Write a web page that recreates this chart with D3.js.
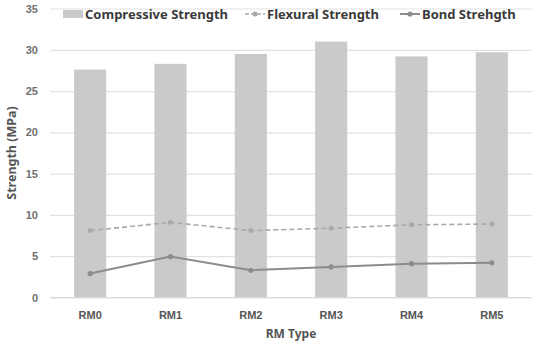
<!DOCTYPE html>
<html>
<head>
<meta charset="utf-8">
<script src="https://cdn.jsdelivr.net/npm/d3@7"></script>
<style>
  body { margin: 0; background: #fff; }
  svg { display: block; font-family: "Noto Sans", "Open Sans", sans-serif; }
</style>
</head>
<body>
<script>
// chart data
let categories = ["RM0", "RM1", "RM2", "RM3", "RM4", "RM5"];
let compressive = [27.6, 28.3, 29.5, 31.0, 29.2, 29.7];
let flexural = [8.1, 9.1, 8.1, 8.4, 8.8, 8.9];
let bond = [2.9, 4.95, 3.3, 3.7, 4.1, 4.2];
let yTicks = [0, 5, 10, 15, 20, 25, 30, 35];

let w = 535;
let h = 342;
let margin = {left: 50, right: 3, top: 8.5, bottom: 44.5};

let svg = d3.select("body")
    .append("svg")
    .attr("width", w)
    .attr("height", h);

let xScale = d3.scaleBand()
    .domain(categories)
    .range([margin.left, w - margin.right])
    .paddingInner(0.6)
    .paddingOuter(0.3);

// center of each band, used by the line series
let xc = function (d) { return xScale(d) + xScale.bandwidth() / 2; };

let yScale = d3.scaleLinear()
    .domain([0, 35])
    .range([h - margin.bottom, margin.top]);

/************** grid + y axis **************/
let yAxis = d3.axisLeft(yScale)
    .tickValues(yTicks)
    .tickSize(-(w - margin.left - margin.right))
    .tickPadding(12);

let gy = svg.append("g")
    .attr("transform", "translate(" + margin.left + ",0)")
    .call(yAxis);
gy.select(".domain").remove();
gy.selectAll(".tick line").attr("stroke", "#e2e2e2").attr("stroke-width", 1.2);
gy.selectAll(".tick text")
    .attr("fill", "#707070")
    .attr("font-size", "11px")
    .attr("font-weight", "bold");

/************** bars **************/
svg.selectAll("rect.bar")
    .data(compressive)
    .enter()
    .append("rect")
    .attr("class", "bar")
    .attr("x", function (d, i) { return xScale(categories[i]); })
    .attr("y", function (d) { return yScale(d); })
    .attr("width", xScale.bandwidth())
    .attr("height", function (d) { return yScale(0) - yScale(d); })
    .attr("fill", "#cacaca");

// baseline
svg.append("line")
    .attr("x1", margin.left).attr("x2", w - margin.right)
    .attr("y1", yScale(0)).attr("y2", yScale(0))
    .attr("stroke", "#d9d9d9").attr("stroke-width", 1.2);

/************** lines **************/
let line = d3.line()
    .x(function (d, i) { return xc(categories[i]); })
    .y(function (d) { return yScale(d); });

svg.append("path")
    .datum(flexural)
    .attr("d", line)
    .attr("fill", "none")
    .attr("stroke", "#a9a9a9")
    .attr("stroke-width", 1.6)
    .attr("stroke-dasharray", "5,3");

svg.selectAll("circle.flex")
    .data(flexural)
    .enter()
    .append("circle")
    .attr("class", "flex")
    .attr("cx", function (d, i) { return xc(categories[i]); })
    .attr("cy", function (d) { return yScale(d); })
    .attr("r", 2.5)
    .attr("fill", "#a9a9a9");

svg.append("path")
    .datum(bond)
    .attr("d", line)
    .attr("fill", "none")
    .attr("stroke", "#8c8c8c")
    .attr("stroke-width", 2);

svg.selectAll("circle.bond")
    .data(bond)
    .enter()
    .append("circle")
    .attr("class", "bond")
    .attr("cx", function (d, i) { return xc(categories[i]); })
    .attr("cy", function (d) { return yScale(d); })
    .attr("r", 2.6)
    .attr("fill", "#8c8c8c");

/************** x axis labels **************/
let xAxis = d3.axisBottom(xScale).tickSize(0).tickPadding(14);
let gx = svg.append("g")
    .attr("transform", "translate(0," + yScale(0) + ")")
    .call(xAxis);
gx.select(".domain").remove();
gx.selectAll(".tick text")
    .attr("fill", "#555")
    .attr("font-size", "11px")
    .attr("font-weight", "bold");

/************** axis titles **************/
svg.append("text")
    .text("RM Type")
    .attr("x", 291)
    .attr("y", 338)
    .attr("text-anchor", "middle")
    .attr("font-size", "12px")
    .attr("font-weight", "bold")
    .attr("fill", "#555");

svg.append("text")
    .text("Strength (MPa)")
    .attr("transform", "translate(16,153) rotate(-90)")
    .attr("text-anchor", "middle")
    .attr("font-size", "12.5px")
    .attr("font-weight", "bold")
    .attr("fill", "#555");

/************** legend **************/
let legend = svg.append("g").attr("font-size", "13px").attr("font-weight", "bold").attr("fill", "#3a3a3a");

legend.append("rect")
    .attr("x", 63).attr("y", 10).attr("width", 20).attr("height", 8)
    .attr("fill", "#cacaca");
legend.append("text").text("Compressive Strength").attr("x", 85).attr("y", 19);

legend.append("line")
    .attr("x1", 245).attr("x2", 265).attr("y1", 14).attr("y2", 14)
    .attr("stroke", "#a9a9a9").attr("stroke-width", 1.6).attr("stroke-dasharray", "4,2");
legend.append("circle").attr("cx", 255).attr("cy", 14).attr("r", 2.5).attr("fill", "#a9a9a9");
legend.append("text").text("Flexural Strength").attr("x", 267).attr("y", 19);

legend.append("line")
    .attr("x1", 400).attr("x2", 420).attr("y1", 14).attr("y2", 14)
    .attr("stroke", "#8c8c8c").attr("stroke-width", 2);
legend.append("circle").attr("cx", 410).attr("cy", 14).attr("r", 2.6).attr("fill", "#8c8c8c");
legend.append("text").text("Bond Strehgth").attr("x", 422).attr("y", 19);
</script>
</body>
</html>
